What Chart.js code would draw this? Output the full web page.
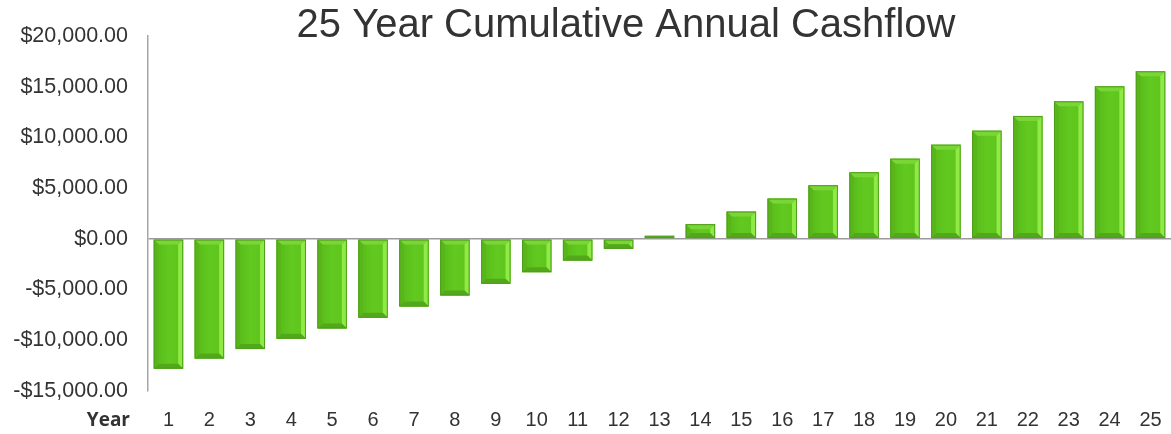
<!DOCTYPE html>
<html lang="en">
<head>
    <meta charset="UTF-8">
    <title>25 Year Cumulative Annual Cashflow</title>
    <script src="https://cdn.jsdelivr.net/npm/chart.js"></script>
    <style>
        html, body {
            margin: 0;
            padding: 0;
            background: #ffffff;
            overflow: hidden;
        }
        #wrap {
            width: 1171px;
            height: 434px;
            position: relative;
        }
    </style>
</head>
<body>
    <div id="wrap"><canvas id="cashChart"></canvas></div>
    <script>
        const years = ["1", "2", "3", "4", "5", "6", "7", "8", "9", "10", "11", "12", "13",
                       "14", "15", "16", "17", "18", "19", "20", "21", "22", "23", "24", "25"];
        const cashflow = [-12800, -11800, -10870, -9850, -8830, -7780, -6670, -5580, -4430,
                          -3280, -2140, -985, 300, 1450, 2690, 3970, 5290, 6570, 7910, 9290,
                          10670, 12120, 13560, 15040, 16520];
        const titleText = "25 Year Cumulative Annual Cashflow";
        const axisLabel = "Year";

        const money = v => (v < 0 ? "-$" : "$") + Math.abs(v).toLocaleString("en-US", {
            minimumFractionDigits: 2, maximumFractionDigits: 2
        });

        // bevel look on each bar, drawn from the bar elements' own geometry
        const bevelPlugin = {
            id: "bevel",
            afterDatasetsDraw(chart) {
                const c = chart.ctx;
                chart.getDatasetMeta(0).data.forEach(bar => {
                    const p = bar.getProps(["x", "y", "base", "width"], true);
                    const l = p.x - p.width / 2, r = p.x + p.width / 2;
                    const t = Math.min(p.y, p.base), b = Math.max(p.y, p.base);
                    const s = Math.min(5, (b - t) / 2, p.width / 2);
                    if (s <= 0) return;
                    c.save();
                    const face = c.createLinearGradient(l, 0, r, 0);
                    face.addColorStop(0, "#55b818");
                    face.addColorStop(0.5, "#62c920");
                    face.addColorStop(1, "#5ec41d");
                    c.fillStyle = face;
                    c.fillRect(l + s, t + s, r - l - 2 * s, b - t - 2 * s);
                    const poly = (pts, col) => {
                        c.beginPath();
                        c.moveTo(pts[0][0], pts[0][1]);
                        pts.slice(1).forEach(q => c.lineTo(q[0], q[1]));
                        c.closePath();
                        c.fillStyle = col;
                        c.fill();
                    };
                    poly([[l, t], [r, t], [r - s, t + s], [l + s, t + s]], "#7ad636");
                    poly([[l, t], [l + s, t + s], [l + s, b - s], [l, b]], "#58b61b");
                    poly([[r, t], [r, b], [r - s, b - s], [r - s, t + s]], "#90ea46");
                    poly([[l, b], [l + s, b - s], [r - s, b - s], [r, b]], "#52a81a");
                    c.strokeStyle = "#4f9e1c";
                    c.lineWidth = 1;
                    c.strokeRect(l + 0.5, t + 0.5, r - l - 1, b - t - 1);
                    c.restore();
                });
            },
            afterDraw(chart) {
                const c = chart.ctx;
                c.save();
                c.fillStyle = "#333333";
                c.font = "40px 'Liberation Sans', Arial, sans-serif";
                c.textAlign = "center";
                c.textBaseline = "middle";
                c.fillText(titleText, 626, 26);
                c.fillStyle = "#333333";
                c.font = "bold 19px 'Open Sans', Arial, sans-serif";
                c.textAlign = "right";
                c.fillText(axisLabel, 130, 421);
                c.restore();
            }
        };

        const ctx = document.getElementById("cashChart").getContext("2d");
        new Chart(ctx, {
            type: "bar",
            data: {
                labels: years,
                datasets: [{
                    label: "Cumulative Cashflow",
                    data: cashflow,
                    backgroundColor: "#62c920",
                    borderWidth: 0,
                    barPercentage: 0.72,
                    categoryPercentage: 1.0
                }]
            },
            options: {
                responsive: true,
                maintainAspectRatio: false,
                animation: false,
                layout: { autoPadding: false, padding: { top: 36, right: 0, left: 0, bottom: 0 } },
                plugins: {
                    legend: { display: false },
                    title: { display: false },
                    tooltip: { enabled: false }
                },
                scales: {
                    x: {
                        // invisible tick marks give the label gap without adding right padding
                        grid: { display: true, drawOnChartArea: false, drawTicks: true,
                                tickLength: 17, color: "rgba(0,0,0,0)" },
                        border: { display: false },
                        ticks: {
                            color: "#333333",
                            padding: 0,
                            font: { family: "'Liberation Sans', Arial, sans-serif", size: 20 }
                        },
                        afterFit: s => { s.height = 43; }
                    },
                    y: {
                        min: -15000,
                        max: 20000,
                        ticks: {
                            stepSize: 5000,
                            color: "#333333",
                            padding: 20,
                            font: { family: "'Liberation Sans', Arial, sans-serif", size: 21.5 },
                            callback: v => money(v)
                        },
                        grid: {
                            drawTicks: false,
                            lineWidth: 1.5,
                            color: c => c.tick && c.tick.value === 0 ? "#9a9a9a" : "rgba(0,0,0,0)"
                        },
                        border: { display: true, color: "#a6a6a6", width: 1.5 },
                        afterFit: s => { s.width = 148; }
                    }
                }
            },
            plugins: [bevelPlugin]
        });
    </script>
</body>
</html>
